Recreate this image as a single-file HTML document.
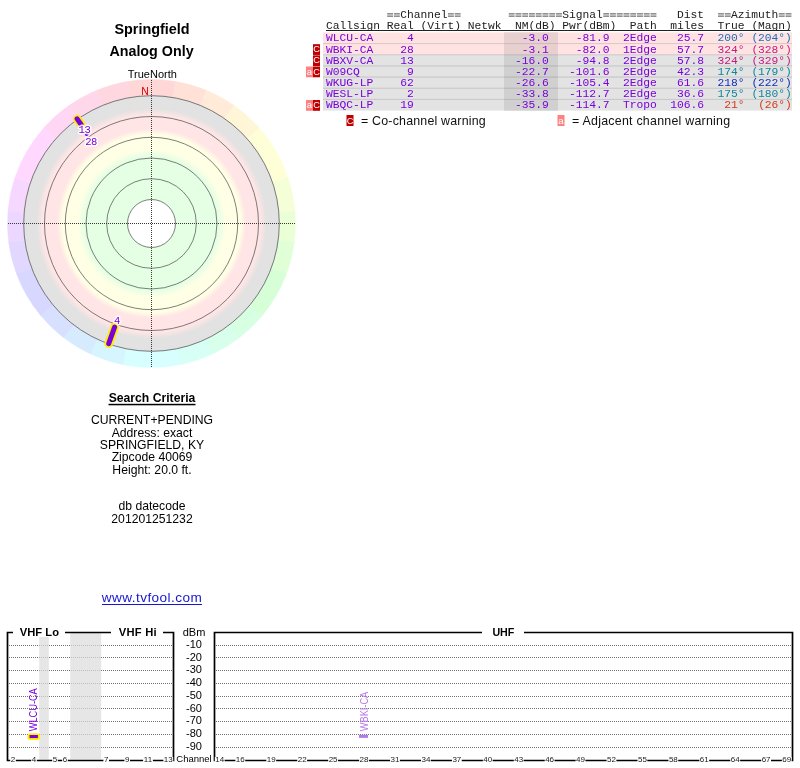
<!DOCTYPE html>
<html><head><meta charset="utf-8"><title>TV Fool Radar</title>
<style>html,body{margin:0;padding:0;background:#fff;}body{width:800px;height:768px;overflow:hidden;font-family:"Liberation Sans",sans-serif;}svg{display:block;will-change:transform;}</style>
</head><body>
<svg width="800" height="768" viewBox="0 0 800 768">
<defs>
<radialGradient id="rg" gradientUnits="userSpaceOnUse" cx="151.5" cy="223.5" r="128">
<stop offset="0.0000" stop-color="#ffffff"/>
<stop offset="0.1875" stop-color="#ffffff"/>
<stop offset="0.1875" stop-color="#e4ffe4"/>
<stop offset="0.5234" stop-color="#e4ffe4"/>
<stop offset="0.5781" stop-color="#ffffe5"/>
<stop offset="0.6953" stop-color="#ffffe5"/>
<stop offset="0.7383" stop-color="#ffe5e5"/>
<stop offset="0.8516" stop-color="#ffe5e5"/>
<stop offset="0.8984" stop-color="#e2e2e2"/>
<stop offset="1.0000" stop-color="#e2e2e2"/>
</radialGradient>
</defs>
<path d="M151.50 223.50 L151.50 79.50 A144 144 0 0 1 175.76 81.56 Z" fill="#ffd7d7" stroke="#ffd7d7" stroke-width="0.5"/>
<path d="M151.50 223.50 L175.76 81.56 A144 144 0 0 1 206.61 90.46 Z" fill="#ffe1d7" stroke="#ffe1d7" stroke-width="0.5"/>
<path d="M151.50 223.50 L206.61 90.46 A144 144 0 0 1 234.10 105.54 Z" fill="#ffebd7" stroke="#ffebd7" stroke-width="0.5"/>
<path d="M151.50 223.50 L234.10 105.54 A144 144 0 0 1 259.52 128.27 Z" fill="#fff5d7" stroke="#fff5d7" stroke-width="0.5"/>
<path d="M151.50 223.50 L259.52 128.27 A144 144 0 0 1 276.21 151.50 Z" fill="#ffffd7" stroke="#ffffd7" stroke-width="0.5"/>
<path d="M151.50 223.50 L276.21 151.50 A144 144 0 0 1 287.98 177.57 Z" fill="#ffffd7" stroke="#ffffd7" stroke-width="0.5"/>
<path d="M151.50 223.50 L287.98 177.57 A144 144 0 0 1 294.95 210.95 Z" fill="#f5ffd7" stroke="#f5ffd7" stroke-width="0.5"/>
<path d="M151.50 223.50 L294.95 210.95 A144 144 0 0 1 294.27 242.30 Z" fill="#ebffd7" stroke="#ebffd7" stroke-width="0.5"/>
<path d="M151.50 223.50 L294.27 242.30 A144 144 0 0 1 286.56 273.46 Z" fill="#e1ffd7" stroke="#e1ffd7" stroke-width="0.5"/>
<path d="M151.50 223.50 L286.56 273.46 A144 144 0 0 1 276.21 295.50 Z" fill="#d7ffd7" stroke="#d7ffd7" stroke-width="0.5"/>
<path d="M151.50 223.50 L276.21 295.50 A144 144 0 0 1 262.29 315.48 Z" fill="#d7ffd7" stroke="#d7ffd7" stroke-width="0.5"/>
<path d="M151.50 223.50 L262.29 315.48 A144 144 0 0 1 239.16 337.74 Z" fill="#d7ffe1" stroke="#d7ffe1" stroke-width="0.5"/>
<path d="M151.50 223.50 L239.16 337.74 A144 144 0 0 1 212.36 354.01 Z" fill="#d7ffeb" stroke="#d7ffeb" stroke-width="0.5"/>
<path d="M151.50 223.50 L212.36 354.01 A144 144 0 0 1 179.96 364.66 Z" fill="#d7fff5" stroke="#d7fff5" stroke-width="0.5"/>
<path d="M151.50 223.50 L179.96 364.66 A144 144 0 0 1 151.50 367.50 Z" fill="#d7ffff" stroke="#d7ffff" stroke-width="0.5"/>
<path d="M151.50 223.50 L151.50 367.50 A144 144 0 0 1 123.04 364.66 Z" fill="#d7ffff" stroke="#d7ffff" stroke-width="0.5"/>
<path d="M151.50 223.50 L123.04 364.66 A144 144 0 0 1 90.64 354.01 Z" fill="#d7f5ff" stroke="#d7f5ff" stroke-width="0.5"/>
<path d="M151.50 223.50 L90.64 354.01 A144 144 0 0 1 63.84 337.74 Z" fill="#d7ebff" stroke="#d7ebff" stroke-width="0.5"/>
<path d="M151.50 223.50 L63.84 337.74 A144 144 0 0 1 40.71 315.48 Z" fill="#d7e1ff" stroke="#d7e1ff" stroke-width="0.5"/>
<path d="M151.50 223.50 L40.71 315.48 A144 144 0 0 1 26.79 295.50 Z" fill="#d7d7ff" stroke="#d7d7ff" stroke-width="0.5"/>
<path d="M151.50 223.50 L26.79 295.50 A144 144 0 0 1 16.44 273.46 Z" fill="#d7d7ff" stroke="#d7d7ff" stroke-width="0.5"/>
<path d="M151.50 223.50 L16.44 273.46 A144 144 0 0 1 8.73 242.30 Z" fill="#e1d7ff" stroke="#e1d7ff" stroke-width="0.5"/>
<path d="M151.50 223.50 L8.73 242.30 A144 144 0 0 1 8.05 210.95 Z" fill="#ebd7ff" stroke="#ebd7ff" stroke-width="0.5"/>
<path d="M151.50 223.50 L8.05 210.95 A144 144 0 0 1 15.02 177.57 Z" fill="#f5d7ff" stroke="#f5d7ff" stroke-width="0.5"/>
<path d="M151.50 223.50 L15.02 177.57 A144 144 0 0 1 26.79 151.50 Z" fill="#ffd7ff" stroke="#ffd7ff" stroke-width="0.5"/>
<path d="M151.50 223.50 L26.79 151.50 A144 144 0 0 1 43.48 128.27 Z" fill="#ffd7ff" stroke="#ffd7ff" stroke-width="0.5"/>
<path d="M151.50 223.50 L43.48 128.27 A144 144 0 0 1 68.90 105.54 Z" fill="#ffd7f5" stroke="#ffd7f5" stroke-width="0.5"/>
<path d="M151.50 223.50 L68.90 105.54 A144 144 0 0 1 96.39 90.46 Z" fill="#ffd7eb" stroke="#ffd7eb" stroke-width="0.5"/>
<path d="M151.50 223.50 L96.39 90.46 A144 144 0 0 1 127.24 81.56 Z" fill="#ffd7e1" stroke="#ffd7e1" stroke-width="0.5"/>
<path d="M151.50 223.50 L127.24 81.56 A144 144 0 0 1 151.50 79.50 Z" fill="#ffd7d7" stroke="#ffd7d7" stroke-width="0.5"/>
<circle cx="151.5" cy="223.5" r="128" fill="url(#rg)"/>
<circle cx="151.5" cy="223.5" r="24" fill="none" stroke="#444" stroke-width="0.68"/>
<circle cx="151.5" cy="223.5" r="44.8" fill="none" stroke="#444" stroke-width="0.68"/>
<circle cx="151.5" cy="223.5" r="65.5" fill="none" stroke="#444" stroke-width="0.68"/>
<circle cx="151.5" cy="223.5" r="86.2" fill="none" stroke="#444" stroke-width="0.68"/>
<circle cx="151.5" cy="223.5" r="107" fill="none" stroke="#444" stroke-width="0.68"/>
<circle cx="151.5" cy="223.5" r="127.8" fill="none" stroke="#444" stroke-width="0.68"/>
<g shape-rendering="crispEdges" stroke="#383838" stroke-width="1" stroke-dasharray="1 1">
<line x1="8" y1="223.5" x2="296" y2="223.5"/>
<line x1="151.5" y1="80" x2="151.5" y2="367"/>
</g>
<line x1="114.60" y1="327.13" x2="108.70" y2="343.71" stroke="#ffee00" stroke-width="8.6" stroke-linecap="round"/>
<line x1="114.60" y1="327.13" x2="108.70" y2="343.71" stroke="#7a00dc" stroke-width="5" stroke-linecap="round"/>
<line x1="80.94" y1="124.22" x2="77.12" y2="118.84" stroke="#ffee00" stroke-width="8.4" stroke-linecap="round"/>
<line x1="80.94" y1="124.22" x2="77.12" y2="118.84" stroke="#7a00dc" stroke-width="5" stroke-linecap="round"/>
<circle cx="86.55" cy="134.10" r="2" fill="#7a00dc"/>
<text x="78.6" y="132.8" font-family="Liberation Mono" font-size="10.5" fill="#7a00dc" stroke="#fff" stroke-opacity="0.85" stroke-width="3" stroke-linejoin="round" paint-order="stroke" letter-spacing="-0.5" text-anchor="start">13</text>
<text x="85.2" y="145.4" font-family="Liberation Mono" font-size="10.5" fill="#7a00dc" stroke="#fff" stroke-opacity="0.85" stroke-width="3" stroke-linejoin="round" paint-order="stroke" letter-spacing="-0.5" text-anchor="start">28</text>
<text x="114" y="324.2" font-family="Liberation Mono" font-size="10.5" fill="#7a00dc" stroke="#fff" stroke-opacity="0.85" stroke-width="3" stroke-linejoin="round" paint-order="stroke" letter-spacing="-0.5" text-anchor="start">4</text>
<text x="152" y="33.6" font-family="Liberation Sans" font-size="14.4" font-weight="bold" fill="#000" text-anchor="middle" >Springfield</text>
<text x="151.5" y="55.5" font-family="Liberation Sans" font-size="14.3" font-weight="bold" fill="#000" text-anchor="middle" >Analog Only</text>
<text x="152.3" y="77.8" font-family="Liberation Sans" font-size="11" font-weight="normal" fill="#000" text-anchor="middle" >TrueNorth</text>
<text x="145" y="94.6" font-family="Liberation Sans" font-size="10.5" font-weight="normal" fill="#e00000" text-anchor="middle" >N</text>
<text x="152" y="402" font-family="Liberation Sans" font-size="12.2" font-weight="bold" fill="#000" text-anchor="middle" >Search Criteria</text>
<rect x="108.5" y="403.8" width="87" height="1.5" fill="#000"/>
<text x="152" y="424" font-family="Liberation Sans" font-size="12.2" font-weight="normal" fill="#000" text-anchor="middle" >CURRENT+PENDING</text>
<text x="152" y="436.5" font-family="Liberation Sans" font-size="12.2" font-weight="normal" fill="#000" text-anchor="middle" >Address: exact</text>
<text x="152" y="449" font-family="Liberation Sans" font-size="12.2" font-weight="normal" fill="#000" text-anchor="middle" >SPRINGFIELD, KY</text>
<text x="152" y="461" font-family="Liberation Sans" font-size="12.2" font-weight="normal" fill="#000" text-anchor="middle" >Zipcode 40069</text>
<text x="152" y="473.5" font-family="Liberation Sans" font-size="12.2" font-weight="normal" fill="#000" text-anchor="middle" >Height: 20.0 ft.</text>
<text x="152" y="510" font-family="Liberation Sans" font-size="12.2" font-weight="normal" fill="#000" text-anchor="middle" >db datecode</text>
<text x="152" y="522.5" font-family="Liberation Sans" font-size="12.2" font-weight="normal" fill="#000" text-anchor="middle" >201201251232</text>
<text x="152" y="602" font-family="Liberation Sans" font-size="13.6" font-weight="normal" fill="#1616d2" text-anchor="middle" letter-spacing="0.45">www.tvfool.com</text>
<rect x="102" y="604" width="100" height="1" fill="#1616d2"/>
<rect x="387.22" y="13.00" width="5.85" height="1.5" fill="#909090"/>
<rect x="387.22" y="15.50" width="5.85" height="1.5" fill="#909090"/>
<rect x="387.22" y="14.50" width="5.85" height="1" fill="#909090" fill-opacity="0.45"/>
<rect x="393.97" y="13.00" width="5.85" height="1.5" fill="#909090"/>
<rect x="393.97" y="15.50" width="5.85" height="1.5" fill="#909090"/>
<rect x="393.97" y="14.50" width="5.85" height="1" fill="#909090" fill-opacity="0.45"/>
<text transform="translate(400.27,18.4) scale(1,1)" font-family="Liberation Mono" font-size="11.3" fill="#202020" textLength="47.26" lengthAdjust="spacing">Channel</text>
<rect x="447.99" y="13.00" width="5.85" height="1.5" fill="#909090"/>
<rect x="447.99" y="15.50" width="5.85" height="1.5" fill="#909090"/>
<rect x="447.99" y="14.50" width="5.85" height="1" fill="#909090" fill-opacity="0.45"/>
<rect x="454.74" y="13.00" width="5.85" height="1.5" fill="#909090"/>
<rect x="454.74" y="15.50" width="5.85" height="1.5" fill="#909090"/>
<rect x="454.74" y="14.50" width="5.85" height="1" fill="#909090" fill-opacity="0.45"/>
<rect x="508.75" y="13.00" width="5.85" height="1.5" fill="#909090"/>
<rect x="508.75" y="15.50" width="5.85" height="1.5" fill="#909090"/>
<rect x="508.75" y="14.50" width="5.85" height="1" fill="#909090" fill-opacity="0.45"/>
<rect x="515.51" y="13.00" width="5.85" height="1.5" fill="#909090"/>
<rect x="515.51" y="15.50" width="5.85" height="1.5" fill="#909090"/>
<rect x="515.51" y="14.50" width="5.85" height="1" fill="#909090" fill-opacity="0.45"/>
<rect x="522.26" y="13.00" width="5.85" height="1.5" fill="#909090"/>
<rect x="522.26" y="15.50" width="5.85" height="1.5" fill="#909090"/>
<rect x="522.26" y="14.50" width="5.85" height="1" fill="#909090" fill-opacity="0.45"/>
<rect x="529.01" y="13.00" width="5.85" height="1.5" fill="#909090"/>
<rect x="529.01" y="15.50" width="5.85" height="1.5" fill="#909090"/>
<rect x="529.01" y="14.50" width="5.85" height="1" fill="#909090" fill-opacity="0.45"/>
<rect x="535.76" y="13.00" width="5.85" height="1.5" fill="#909090"/>
<rect x="535.76" y="15.50" width="5.85" height="1.5" fill="#909090"/>
<rect x="535.76" y="14.50" width="5.85" height="1" fill="#909090" fill-opacity="0.45"/>
<rect x="542.51" y="13.00" width="5.85" height="1.5" fill="#909090"/>
<rect x="542.51" y="15.50" width="5.85" height="1.5" fill="#909090"/>
<rect x="542.51" y="14.50" width="5.85" height="1" fill="#909090" fill-opacity="0.45"/>
<rect x="549.27" y="13.00" width="5.85" height="1.5" fill="#909090"/>
<rect x="549.27" y="15.50" width="5.85" height="1.5" fill="#909090"/>
<rect x="549.27" y="14.50" width="5.85" height="1" fill="#909090" fill-opacity="0.45"/>
<rect x="556.02" y="13.00" width="5.85" height="1.5" fill="#909090"/>
<rect x="556.02" y="15.50" width="5.85" height="1.5" fill="#909090"/>
<rect x="556.02" y="14.50" width="5.85" height="1" fill="#909090" fill-opacity="0.45"/>
<text transform="translate(562.32,18.4) scale(1,1)" font-family="Liberation Mono" font-size="11.3" fill="#202020" textLength="40.51" lengthAdjust="spacing">Signal</text>
<rect x="603.28" y="13.00" width="5.85" height="1.5" fill="#909090"/>
<rect x="603.28" y="15.50" width="5.85" height="1.5" fill="#909090"/>
<rect x="603.28" y="14.50" width="5.85" height="1" fill="#909090" fill-opacity="0.45"/>
<rect x="610.03" y="13.00" width="5.85" height="1.5" fill="#909090"/>
<rect x="610.03" y="15.50" width="5.85" height="1.5" fill="#909090"/>
<rect x="610.03" y="14.50" width="5.85" height="1" fill="#909090" fill-opacity="0.45"/>
<rect x="616.79" y="13.00" width="5.85" height="1.5" fill="#909090"/>
<rect x="616.79" y="15.50" width="5.85" height="1.5" fill="#909090"/>
<rect x="616.79" y="14.50" width="5.85" height="1" fill="#909090" fill-opacity="0.45"/>
<rect x="623.54" y="13.00" width="5.85" height="1.5" fill="#909090"/>
<rect x="623.54" y="15.50" width="5.85" height="1.5" fill="#909090"/>
<rect x="623.54" y="14.50" width="5.85" height="1" fill="#909090" fill-opacity="0.45"/>
<rect x="630.29" y="13.00" width="5.85" height="1.5" fill="#909090"/>
<rect x="630.29" y="15.50" width="5.85" height="1.5" fill="#909090"/>
<rect x="630.29" y="14.50" width="5.85" height="1" fill="#909090" fill-opacity="0.45"/>
<rect x="637.04" y="13.00" width="5.85" height="1.5" fill="#909090"/>
<rect x="637.04" y="15.50" width="5.85" height="1.5" fill="#909090"/>
<rect x="637.04" y="14.50" width="5.85" height="1" fill="#909090" fill-opacity="0.45"/>
<rect x="643.79" y="13.00" width="5.85" height="1.5" fill="#909090"/>
<rect x="643.79" y="15.50" width="5.85" height="1.5" fill="#909090"/>
<rect x="643.79" y="14.50" width="5.85" height="1" fill="#909090" fill-opacity="0.45"/>
<rect x="650.55" y="13.00" width="5.85" height="1.5" fill="#909090"/>
<rect x="650.55" y="15.50" width="5.85" height="1.5" fill="#909090"/>
<rect x="650.55" y="14.50" width="5.85" height="1" fill="#909090" fill-opacity="0.45"/>
<text transform="translate(677.10,18.4) scale(1,1)" font-family="Liberation Mono" font-size="11.3" fill="#202020" textLength="27.01" lengthAdjust="spacing">Dist</text>
<rect x="718.07" y="13.00" width="5.85" height="1.5" fill="#909090"/>
<rect x="718.07" y="15.50" width="5.85" height="1.5" fill="#909090"/>
<rect x="718.07" y="14.50" width="5.85" height="1" fill="#909090" fill-opacity="0.45"/>
<rect x="724.82" y="13.00" width="5.85" height="1.5" fill="#909090"/>
<rect x="724.82" y="15.50" width="5.85" height="1.5" fill="#909090"/>
<rect x="724.82" y="14.50" width="5.85" height="1" fill="#909090" fill-opacity="0.45"/>
<text transform="translate(731.12,18.4) scale(1,1)" font-family="Liberation Mono" font-size="11.3" fill="#202020" textLength="47.26" lengthAdjust="spacing">Azimuth</text>
<rect x="778.83" y="13.00" width="5.85" height="1.5" fill="#909090"/>
<rect x="778.83" y="15.50" width="5.85" height="1.5" fill="#909090"/>
<rect x="778.83" y="14.50" width="5.85" height="1" fill="#909090" fill-opacity="0.45"/>
<rect x="785.59" y="13.00" width="5.85" height="1.5" fill="#909090"/>
<rect x="785.59" y="15.50" width="5.85" height="1.5" fill="#909090"/>
<rect x="785.59" y="14.50" width="5.85" height="1" fill="#909090" fill-opacity="0.45"/>
<text transform="translate(326.00,28.9) scale(1,1)" font-family="Liberation Mono" font-size="11.3" fill="#202020" textLength="54.02" lengthAdjust="spacing">Callsign</text>
<text transform="translate(386.77,28.9) scale(1,1)" font-family="Liberation Mono" font-size="11.3" fill="#202020" textLength="27.01" lengthAdjust="spacing">Real</text>
<text transform="translate(420.53,28.9) scale(1,1)" font-family="Liberation Mono" font-size="11.3" fill="#202020" textLength="40.51" lengthAdjust="spacing">(Virt)</text>
<text transform="translate(467.79,28.9) scale(1,1)" font-family="Liberation Mono" font-size="11.3" fill="#202020" textLength="33.76" lengthAdjust="spacing">Netwk</text>
<text transform="translate(515.06,28.9) scale(1,1)" font-family="Liberation Mono" font-size="11.3" fill="#202020" textLength="40.51" lengthAdjust="spacing">NM(dB)</text>
<text transform="translate(562.32,28.9) scale(1,1)" font-family="Liberation Mono" font-size="11.3" fill="#202020" textLength="54.02" lengthAdjust="spacing">Pwr(dBm)</text>
<text transform="translate(629.84,28.9) scale(1,1)" font-family="Liberation Mono" font-size="11.3" fill="#202020" textLength="27.01" lengthAdjust="spacing">Path</text>
<text transform="translate(670.35,28.9) scale(1,1)" font-family="Liberation Mono" font-size="11.3" fill="#202020" textLength="33.76" lengthAdjust="spacing">miles</text>
<text transform="translate(717.62,28.9) scale(1,1)" font-family="Liberation Mono" font-size="11.3" fill="#202020" textLength="27.01" lengthAdjust="spacing">True</text>
<text transform="translate(751.38,28.9) scale(1,1)" font-family="Liberation Mono" font-size="11.3" fill="#202020" textLength="40.51" lengthAdjust="spacing">(Magn)</text>
<rect x="326" y="30" width="464.5" height="1" fill="#202020"/>
<rect x="323" y="32.40" width="469" height="11.17" fill="#ffe3e3"/>
<rect x="504" y="32.40" width="54" height="11.17" fill="#e8d0d0"/>
<text transform="translate(326.00,41.37) scale(1,1)" font-family="Liberation Mono" font-size="11.3" fill="#7a00dc" textLength="47.26" lengthAdjust="spacing">WLCU-CA</text>
<text transform="translate(407.02,41.37) scale(1,1)" font-family="Liberation Mono" font-size="11.3" fill="#7a00dc" textLength="6.75" lengthAdjust="spacing">4</text>
<text transform="translate(521.81,41.37) scale(1,1)" font-family="Liberation Mono" font-size="11.3" fill="#7a00dc" textLength="27.01" lengthAdjust="spacing">-3.0</text>
<text transform="translate(575.82,41.37) scale(1,1)" font-family="Liberation Mono" font-size="11.3" fill="#7a00dc" textLength="33.76" lengthAdjust="spacing">-81.9</text>
<text transform="translate(623.09,41.37) scale(1,1)" font-family="Liberation Mono" font-size="11.3" fill="#7a00dc" textLength="33.76" lengthAdjust="spacing">2Edge</text>
<text transform="translate(677.10,41.37) scale(1,1)" font-family="Liberation Mono" font-size="11.3" fill="#7a00dc" textLength="27.01" lengthAdjust="spacing">25.7</text>
<text transform="translate(717.62,41.37) scale(1,1)" font-family="Liberation Mono" font-size="11.3" fill="#1e6eb9" textLength="27.01" lengthAdjust="spacing">200°</text>
<text transform="translate(751.38,41.37) scale(1,1)" font-family="Liberation Mono" font-size="11.3" fill="#1e6eb9" textLength="40.51" lengthAdjust="spacing">(204°)</text>
<rect x="323" y="43.57" width="469" height="11.17" fill="#ffe3e3"/>
<rect x="504" y="43.57" width="54" height="11.17" fill="#e8d0d0"/>
<rect x="323" y="43.07" width="469" height="1" fill="#000" fill-opacity="0.15"/>
<text transform="translate(326.00,52.54) scale(1,1)" font-family="Liberation Mono" font-size="11.3" fill="#7a00dc" textLength="47.26" lengthAdjust="spacing">WBKI-CA</text>
<text transform="translate(400.27,52.54) scale(1,1)" font-family="Liberation Mono" font-size="11.3" fill="#7a00dc" textLength="13.50" lengthAdjust="spacing">28</text>
<text transform="translate(521.81,52.54) scale(1,1)" font-family="Liberation Mono" font-size="11.3" fill="#7a00dc" textLength="27.01" lengthAdjust="spacing">-3.1</text>
<text transform="translate(575.82,52.54) scale(1,1)" font-family="Liberation Mono" font-size="11.3" fill="#7a00dc" textLength="33.76" lengthAdjust="spacing">-82.0</text>
<text transform="translate(623.09,52.54) scale(1,1)" font-family="Liberation Mono" font-size="11.3" fill="#7a00dc" textLength="33.76" lengthAdjust="spacing">1Edge</text>
<text transform="translate(677.10,52.54) scale(1,1)" font-family="Liberation Mono" font-size="11.3" fill="#7a00dc" textLength="27.01" lengthAdjust="spacing">57.7</text>
<text transform="translate(717.62,52.54) scale(1,1)" font-family="Liberation Mono" font-size="11.3" fill="#c8197d" textLength="27.01" lengthAdjust="spacing">324°</text>
<text transform="translate(751.38,52.54) scale(1,1)" font-family="Liberation Mono" font-size="11.3" fill="#c8197d" textLength="40.51" lengthAdjust="spacing">(328°)</text>
<rect x="313" y="44.17" width="7" height="10.77" fill="#c00000"/>
<text x="316.5" y="52.24" font-family="Liberation Sans" font-size="9.2" font-weight="normal" fill="#fff" text-anchor="middle" >C</text>
<rect x="323" y="54.74" width="469" height="11.17" fill="#e3e3e3"/>
<rect x="504" y="54.74" width="54" height="11.17" fill="#d0d0d0"/>
<rect x="323" y="54.24" width="469" height="1" fill="#000" fill-opacity="0.15"/>
<text transform="translate(326.00,63.709999999999994) scale(1,1)" font-family="Liberation Mono" font-size="11.3" fill="#7a00dc" textLength="47.26" lengthAdjust="spacing">WBXV-CA</text>
<text transform="translate(400.27,63.709999999999994) scale(1,1)" font-family="Liberation Mono" font-size="11.3" fill="#7a00dc" textLength="13.50" lengthAdjust="spacing">13</text>
<text transform="translate(515.06,63.709999999999994) scale(1,1)" font-family="Liberation Mono" font-size="11.3" fill="#7a00dc" textLength="33.76" lengthAdjust="spacing">-16.0</text>
<text transform="translate(575.82,63.709999999999994) scale(1,1)" font-family="Liberation Mono" font-size="11.3" fill="#7a00dc" textLength="33.76" lengthAdjust="spacing">-94.8</text>
<text transform="translate(623.09,63.709999999999994) scale(1,1)" font-family="Liberation Mono" font-size="11.3" fill="#7a00dc" textLength="33.76" lengthAdjust="spacing">2Edge</text>
<text transform="translate(677.10,63.709999999999994) scale(1,1)" font-family="Liberation Mono" font-size="11.3" fill="#7a00dc" textLength="27.01" lengthAdjust="spacing">57.8</text>
<text transform="translate(717.62,63.709999999999994) scale(1,1)" font-family="Liberation Mono" font-size="11.3" fill="#c8197d" textLength="27.01" lengthAdjust="spacing">324°</text>
<text transform="translate(751.38,63.709999999999994) scale(1,1)" font-family="Liberation Mono" font-size="11.3" fill="#c8197d" textLength="40.51" lengthAdjust="spacing">(329°)</text>
<rect x="313" y="55.34" width="7" height="10.77" fill="#c00000"/>
<text x="316.5" y="63.41" font-family="Liberation Sans" font-size="9.2" font-weight="normal" fill="#fff" text-anchor="middle" >C</text>
<rect x="323" y="65.91" width="469" height="11.17" fill="#e3e3e3"/>
<rect x="504" y="65.91" width="54" height="11.17" fill="#d0d0d0"/>
<rect x="323" y="65.41" width="469" height="1" fill="#000" fill-opacity="0.15"/>
<text transform="translate(326.00,74.88) scale(1,1)" font-family="Liberation Mono" font-size="11.3" fill="#7a00dc" textLength="33.76" lengthAdjust="spacing">W09CQ</text>
<text transform="translate(407.02,74.88) scale(1,1)" font-family="Liberation Mono" font-size="11.3" fill="#7a00dc" textLength="6.75" lengthAdjust="spacing">9</text>
<text transform="translate(515.06,74.88) scale(1,1)" font-family="Liberation Mono" font-size="11.3" fill="#7a00dc" textLength="33.76" lengthAdjust="spacing">-22.7</text>
<text transform="translate(569.07,74.88) scale(1,1)" font-family="Liberation Mono" font-size="11.3" fill="#7a00dc" textLength="40.51" lengthAdjust="spacing">-101.6</text>
<text transform="translate(623.09,74.88) scale(1,1)" font-family="Liberation Mono" font-size="11.3" fill="#7a00dc" textLength="33.76" lengthAdjust="spacing">2Edge</text>
<text transform="translate(677.10,74.88) scale(1,1)" font-family="Liberation Mono" font-size="11.3" fill="#7a00dc" textLength="27.01" lengthAdjust="spacing">42.3</text>
<text transform="translate(717.62,74.88) scale(1,1)" font-family="Liberation Mono" font-size="11.3" fill="#0f879b" textLength="27.01" lengthAdjust="spacing">174°</text>
<text transform="translate(751.38,74.88) scale(1,1)" font-family="Liberation Mono" font-size="11.3" fill="#0f879b" textLength="40.51" lengthAdjust="spacing">(179°)</text>
<rect x="313" y="66.51" width="7" height="10.77" fill="#c00000"/>
<text x="316.5" y="74.58" font-family="Liberation Sans" font-size="9.2" font-weight="normal" fill="#fff" text-anchor="middle" >C</text>
<rect x="306" y="66.51" width="7" height="10.77" fill="#ff8080"/>
<text x="309.5" y="74.58" font-family="Liberation Sans" font-size="9.6" font-weight="normal" fill="#fff" text-anchor="middle" >a</text>
<rect x="323" y="77.08" width="469" height="11.17" fill="#e3e3e3"/>
<rect x="504" y="77.08" width="54" height="11.17" fill="#d0d0d0"/>
<rect x="323" y="76.58" width="469" height="1" fill="#000" fill-opacity="0.15"/>
<text transform="translate(326.00,86.05) scale(1,1)" font-family="Liberation Mono" font-size="11.3" fill="#7a00dc" textLength="47.26" lengthAdjust="spacing">WKUG-LP</text>
<text transform="translate(400.27,86.05) scale(1,1)" font-family="Liberation Mono" font-size="11.3" fill="#7a00dc" textLength="13.50" lengthAdjust="spacing">62</text>
<text transform="translate(515.06,86.05) scale(1,1)" font-family="Liberation Mono" font-size="11.3" fill="#7a00dc" textLength="33.76" lengthAdjust="spacing">-26.6</text>
<text transform="translate(569.07,86.05) scale(1,1)" font-family="Liberation Mono" font-size="11.3" fill="#7a00dc" textLength="40.51" lengthAdjust="spacing">-105.4</text>
<text transform="translate(623.09,86.05) scale(1,1)" font-family="Liberation Mono" font-size="11.3" fill="#7a00dc" textLength="33.76" lengthAdjust="spacing">2Edge</text>
<text transform="translate(677.10,86.05) scale(1,1)" font-family="Liberation Mono" font-size="11.3" fill="#7a00dc" textLength="27.01" lengthAdjust="spacing">61.6</text>
<text transform="translate(717.62,86.05) scale(1,1)" font-family="Liberation Mono" font-size="11.3" fill="#0f2dbe" textLength="27.01" lengthAdjust="spacing">218°</text>
<text transform="translate(751.38,86.05) scale(1,1)" font-family="Liberation Mono" font-size="11.3" fill="#0f2dbe" textLength="40.51" lengthAdjust="spacing">(222°)</text>
<rect x="323" y="88.25" width="469" height="11.17" fill="#e3e3e3"/>
<rect x="504" y="88.25" width="54" height="11.17" fill="#d0d0d0"/>
<rect x="323" y="87.75" width="469" height="1" fill="#000" fill-opacity="0.15"/>
<text transform="translate(326.00,97.22) scale(1,1)" font-family="Liberation Mono" font-size="11.3" fill="#7a00dc" textLength="47.26" lengthAdjust="spacing">WESL-LP</text>
<text transform="translate(407.02,97.22) scale(1,1)" font-family="Liberation Mono" font-size="11.3" fill="#7a00dc" textLength="6.75" lengthAdjust="spacing">2</text>
<text transform="translate(515.06,97.22) scale(1,1)" font-family="Liberation Mono" font-size="11.3" fill="#7a00dc" textLength="33.76" lengthAdjust="spacing">-33.8</text>
<text transform="translate(569.07,97.22) scale(1,1)" font-family="Liberation Mono" font-size="11.3" fill="#7a00dc" textLength="40.51" lengthAdjust="spacing">-112.7</text>
<text transform="translate(623.09,97.22) scale(1,1)" font-family="Liberation Mono" font-size="11.3" fill="#7a00dc" textLength="33.76" lengthAdjust="spacing">2Edge</text>
<text transform="translate(677.10,97.22) scale(1,1)" font-family="Liberation Mono" font-size="11.3" fill="#7a00dc" textLength="27.01" lengthAdjust="spacing">36.6</text>
<text transform="translate(717.62,97.22) scale(1,1)" font-family="Liberation Mono" font-size="11.3" fill="#0f879b" textLength="27.01" lengthAdjust="spacing">175°</text>
<text transform="translate(751.38,97.22) scale(1,1)" font-family="Liberation Mono" font-size="11.3" fill="#0f879b" textLength="40.51" lengthAdjust="spacing">(180°)</text>
<rect x="323" y="99.42" width="469" height="11.17" fill="#e3e3e3"/>
<rect x="504" y="99.42" width="54" height="11.17" fill="#d0d0d0"/>
<rect x="323" y="98.92" width="469" height="1" fill="#000" fill-opacity="0.15"/>
<text transform="translate(326.00,108.38999999999999) scale(1,1)" font-family="Liberation Mono" font-size="11.3" fill="#7a00dc" textLength="47.26" lengthAdjust="spacing">WBQC-LP</text>
<text transform="translate(400.27,108.38999999999999) scale(1,1)" font-family="Liberation Mono" font-size="11.3" fill="#7a00dc" textLength="13.50" lengthAdjust="spacing">19</text>
<text transform="translate(515.06,108.38999999999999) scale(1,1)" font-family="Liberation Mono" font-size="11.3" fill="#7a00dc" textLength="33.76" lengthAdjust="spacing">-35.9</text>
<text transform="translate(569.07,108.38999999999999) scale(1,1)" font-family="Liberation Mono" font-size="11.3" fill="#7a00dc" textLength="40.51" lengthAdjust="spacing">-114.7</text>
<text transform="translate(623.09,108.38999999999999) scale(1,1)" font-family="Liberation Mono" font-size="11.3" fill="#7a00dc" textLength="33.76" lengthAdjust="spacing">Tropo</text>
<text transform="translate(670.35,108.38999999999999) scale(1,1)" font-family="Liberation Mono" font-size="11.3" fill="#7a00dc" textLength="33.76" lengthAdjust="spacing">106.6</text>
<text transform="translate(724.37,108.38999999999999) scale(1,1)" font-family="Liberation Mono" font-size="11.3" fill="#d73719" textLength="20.26" lengthAdjust="spacing">21°</text>
<text transform="translate(758.13,108.38999999999999) scale(1,1)" font-family="Liberation Mono" font-size="11.3" fill="#d73719" textLength="33.76" lengthAdjust="spacing">(26°)</text>
<rect x="313" y="100.02" width="7" height="10.77" fill="#c00000"/>
<text x="316.5" y="108.08999999999999" font-family="Liberation Sans" font-size="9.2" font-weight="normal" fill="#fff" text-anchor="middle" >C</text>
<rect x="306" y="100.02" width="7" height="10.77" fill="#ff8080"/>
<text x="309.5" y="108.08999999999999" font-family="Liberation Sans" font-size="9.6" font-weight="normal" fill="#fff" text-anchor="middle" >a</text>
<rect x="346.5" y="115" width="7" height="11" fill="#c00000"/>
<text x="350" y="124.0" font-family="Liberation Sans" font-size="9.2" font-weight="normal" fill="#fff" text-anchor="middle" >C</text>
<text x="361" y="125" font-family="Liberation Sans" font-size="12.4" font-weight="normal" fill="#101010" text-anchor="start" letter-spacing="0.2">= Co-channel warning</text>
<rect x="557.5" y="115" width="7" height="11" fill="#ff8080"/>
<text x="561" y="124.0" font-family="Liberation Sans" font-size="9.6" font-weight="normal" fill="#fff" text-anchor="middle" >a</text>
<text x="572" y="125" font-family="Liberation Sans" font-size="12.4" font-weight="normal" fill="#101010" text-anchor="start" letter-spacing="0.25">= Adjacent channel warning</text>
<g shape-rendering="crispEdges" stroke="#727272" stroke-width="1" stroke-dasharray="1 1">
<line x1="9" y1="645.5" x2="173" y2="645.5"/>
<line x1="216" y1="645.5" x2="792" y2="645.5"/>
<line x1="9" y1="657.5" x2="173" y2="657.5"/>
<line x1="216" y1="657.5" x2="792" y2="657.5"/>
<line x1="9" y1="670.5" x2="173" y2="670.5"/>
<line x1="216" y1="670.5" x2="792" y2="670.5"/>
<line x1="9" y1="683.5" x2="173" y2="683.5"/>
<line x1="216" y1="683.5" x2="792" y2="683.5"/>
<line x1="9" y1="696.5" x2="173" y2="696.5"/>
<line x1="216" y1="696.5" x2="792" y2="696.5"/>
<line x1="9" y1="708.5" x2="173" y2="708.5"/>
<line x1="216" y1="708.5" x2="792" y2="708.5"/>
<line x1="9" y1="721.5" x2="173" y2="721.5"/>
<line x1="216" y1="721.5" x2="792" y2="721.5"/>
<line x1="9" y1="734.5" x2="173" y2="734.5"/>
<line x1="216" y1="734.5" x2="792" y2="734.5"/>
<line x1="9" y1="747.5" x2="173" y2="747.5"/>
<line x1="216" y1="747.5" x2="792" y2="747.5"/>
</g>
<rect x="39.2" y="637" width="9.6" height="122.5" fill="#dcdcdc" fill-opacity="0.716"/>
<rect x="70.2" y="633" width="31" height="126.5" fill="#dcdcdc" fill-opacity="0.716"/>
<g stroke="#000" stroke-width="1.7" fill="none">
<path d="M13 632.5 H7.5 V760.5 H173.5 V632.5 H163"/>
<path d="M65 632.5 H111"/>
<path d="M482 632.5 H214.5 V760.5 H792.5 V632.5 H524"/>
</g>
<text x="39.4" y="636.2" font-family="Liberation Sans" font-size="11.2" font-weight="bold" fill="#000" text-anchor="middle" >VHF Lo</text>
<text x="137.8" y="636.2" font-family="Liberation Sans" font-size="11.2" font-weight="bold" fill="#000" text-anchor="middle" letter-spacing="0.2">VHF Hi</text>
<text x="503.4" y="636.2" font-family="Liberation Sans" font-size="10.7" font-weight="bold" fill="#000" text-anchor="middle" >UHF</text>
<text x="194" y="636" font-family="Liberation Sans" font-size="11" font-weight="normal" fill="#000" text-anchor="middle" >dBm</text>
<text x="194" y="647.9" font-family="Liberation Sans" font-size="11" font-weight="normal" fill="#000" text-anchor="middle" >-10</text>
<text x="194" y="660.65" font-family="Liberation Sans" font-size="11" font-weight="normal" fill="#000" text-anchor="middle" >-20</text>
<text x="194" y="673.4" font-family="Liberation Sans" font-size="11" font-weight="normal" fill="#000" text-anchor="middle" >-30</text>
<text x="194" y="686.15" font-family="Liberation Sans" font-size="11" font-weight="normal" fill="#000" text-anchor="middle" >-40</text>
<text x="194" y="698.9" font-family="Liberation Sans" font-size="11" font-weight="normal" fill="#000" text-anchor="middle" >-50</text>
<text x="194" y="711.65" font-family="Liberation Sans" font-size="11" font-weight="normal" fill="#000" text-anchor="middle" >-60</text>
<text x="194" y="724.4" font-family="Liberation Sans" font-size="11" font-weight="normal" fill="#000" text-anchor="middle" >-70</text>
<text x="194" y="737.15" font-family="Liberation Sans" font-size="11" font-weight="normal" fill="#000" text-anchor="middle" >-80</text>
<text x="194" y="749.9" font-family="Liberation Sans" font-size="11" font-weight="normal" fill="#000" text-anchor="middle" >-90</text>
<text x="194" y="761.8" font-family="Liberation Sans" font-size="9.5" font-weight="normal" fill="#000" text-anchor="middle" >Channel</text>
<rect x="10.20" y="757" width="5.60" height="6" fill="#fff"/>
<text x="13" y="762.0" font-family="Liberation Sans" font-size="8.0" font-weight="normal" fill="#181818" text-anchor="middle" >2</text>
<rect x="31.20" y="757" width="5.60" height="6" fill="#fff"/>
<text x="34" y="762.0" font-family="Liberation Sans" font-size="8.0" font-weight="normal" fill="#181818" text-anchor="middle" >4</text>
<rect x="52.20" y="757" width="5.60" height="6" fill="#fff"/>
<text x="55" y="762.0" font-family="Liberation Sans" font-size="8.0" font-weight="normal" fill="#181818" text-anchor="middle" >5</text>
<rect x="62.20" y="757" width="5.60" height="6" fill="#fff"/>
<text x="65" y="762.0" font-family="Liberation Sans" font-size="8.0" font-weight="normal" fill="#181818" text-anchor="middle" >6</text>
<rect x="103.40" y="757" width="5.60" height="6" fill="#fff"/>
<text x="106.2" y="762.0" font-family="Liberation Sans" font-size="8.0" font-weight="normal" fill="#181818" text-anchor="middle" >7</text>
<rect x="124.40" y="757" width="5.60" height="6" fill="#fff"/>
<text x="127.2" y="762.0" font-family="Liberation Sans" font-size="8.0" font-weight="normal" fill="#181818" text-anchor="middle" >9</text>
<rect x="143.10" y="757" width="9.80" height="6" fill="#fff"/>
<text x="148" y="762.0" font-family="Liberation Sans" font-size="8.0" font-weight="normal" fill="#181818" text-anchor="middle" >11</text>
<rect x="163.40" y="757" width="9.80" height="6" fill="#fff"/>
<text x="168.3" y="762.0" font-family="Liberation Sans" font-size="8.0" font-weight="normal" fill="#181818" text-anchor="middle" >13</text>
<rect x="214.80" y="757" width="9.80" height="6" fill="#fff"/>
<text x="219.7" y="762.0" font-family="Liberation Sans" font-size="8.0" font-weight="normal" fill="#181818" text-anchor="middle" >14</text>
<rect x="235.42" y="757" width="9.80" height="6" fill="#fff"/>
<text x="240.32" y="762.0" font-family="Liberation Sans" font-size="8.0" font-weight="normal" fill="#181818" text-anchor="middle" >16</text>
<rect x="266.35" y="757" width="9.80" height="6" fill="#fff"/>
<text x="271.25" y="762.0" font-family="Liberation Sans" font-size="8.0" font-weight="normal" fill="#181818" text-anchor="middle" >19</text>
<rect x="297.28" y="757" width="9.80" height="6" fill="#fff"/>
<text x="302.18" y="762.0" font-family="Liberation Sans" font-size="8.0" font-weight="normal" fill="#181818" text-anchor="middle" >22</text>
<rect x="328.21" y="757" width="9.80" height="6" fill="#fff"/>
<text x="333.11" y="762.0" font-family="Liberation Sans" font-size="8.0" font-weight="normal" fill="#181818" text-anchor="middle" >25</text>
<rect x="359.14" y="757" width="9.80" height="6" fill="#fff"/>
<text x="364.03999999999996" y="762.0" font-family="Liberation Sans" font-size="8.0" font-weight="normal" fill="#181818" text-anchor="middle" >28</text>
<rect x="390.07" y="757" width="9.80" height="6" fill="#fff"/>
<text x="394.97" y="762.0" font-family="Liberation Sans" font-size="8.0" font-weight="normal" fill="#181818" text-anchor="middle" >31</text>
<rect x="421.00" y="757" width="9.80" height="6" fill="#fff"/>
<text x="425.9" y="762.0" font-family="Liberation Sans" font-size="8.0" font-weight="normal" fill="#181818" text-anchor="middle" >34</text>
<rect x="451.93" y="757" width="9.80" height="6" fill="#fff"/>
<text x="456.83000000000004" y="762.0" font-family="Liberation Sans" font-size="8.0" font-weight="normal" fill="#181818" text-anchor="middle" >37</text>
<rect x="482.86" y="757" width="9.80" height="6" fill="#fff"/>
<text x="487.76" y="762.0" font-family="Liberation Sans" font-size="8.0" font-weight="normal" fill="#181818" text-anchor="middle" >40</text>
<rect x="513.79" y="757" width="9.80" height="6" fill="#fff"/>
<text x="518.69" y="762.0" font-family="Liberation Sans" font-size="8.0" font-weight="normal" fill="#181818" text-anchor="middle" >43</text>
<rect x="544.72" y="757" width="9.80" height="6" fill="#fff"/>
<text x="549.62" y="762.0" font-family="Liberation Sans" font-size="8.0" font-weight="normal" fill="#181818" text-anchor="middle" >46</text>
<rect x="575.65" y="757" width="9.80" height="6" fill="#fff"/>
<text x="580.55" y="762.0" font-family="Liberation Sans" font-size="8.0" font-weight="normal" fill="#181818" text-anchor="middle" >49</text>
<rect x="606.58" y="757" width="9.80" height="6" fill="#fff"/>
<text x="611.48" y="762.0" font-family="Liberation Sans" font-size="8.0" font-weight="normal" fill="#181818" text-anchor="middle" >52</text>
<rect x="637.51" y="757" width="9.80" height="6" fill="#fff"/>
<text x="642.4100000000001" y="762.0" font-family="Liberation Sans" font-size="8.0" font-weight="normal" fill="#181818" text-anchor="middle" >55</text>
<rect x="668.44" y="757" width="9.80" height="6" fill="#fff"/>
<text x="673.34" y="762.0" font-family="Liberation Sans" font-size="8.0" font-weight="normal" fill="#181818" text-anchor="middle" >58</text>
<rect x="699.37" y="757" width="9.80" height="6" fill="#fff"/>
<text x="704.27" y="762.0" font-family="Liberation Sans" font-size="8.0" font-weight="normal" fill="#181818" text-anchor="middle" >61</text>
<rect x="730.30" y="757" width="9.80" height="6" fill="#fff"/>
<text x="735.2" y="762.0" font-family="Liberation Sans" font-size="8.0" font-weight="normal" fill="#181818" text-anchor="middle" >64</text>
<rect x="761.23" y="757" width="9.80" height="6" fill="#fff"/>
<text x="766.1300000000001" y="762.0" font-family="Liberation Sans" font-size="8.0" font-weight="normal" fill="#181818" text-anchor="middle" >67</text>
<rect x="781.85" y="757" width="9.80" height="6" fill="#fff"/>
<text x="786.75" y="762.0" font-family="Liberation Sans" font-size="8.0" font-weight="normal" fill="#181818" text-anchor="middle" >69</text>
<rect x="27.5" y="733.2" width="12.4" height="6.8" rx="2.6" fill="#ffee00"/>
<rect x="29.5" y="735" width="8.4" height="3.1" fill="#7a00dc"/>
<rect x="359" y="734.8" width="9" height="3.1" fill="#b57ae9"/>
<text transform="translate(37.4,731.2) rotate(-90) scale(1,1.12)" font-family="Liberation Sans" font-size="9.3" fill="#7a00dc" textLength="43" lengthAdjust="spacing">WLCU-CA</text>
<text transform="translate(367.6,731.2) rotate(-90) scale(1,1.18)" font-family="Liberation Sans" font-size="9.3" fill="#b57ae9" textLength="39.5" lengthAdjust="spacing">WBKI-CA</text>
</svg>
</body></html>
